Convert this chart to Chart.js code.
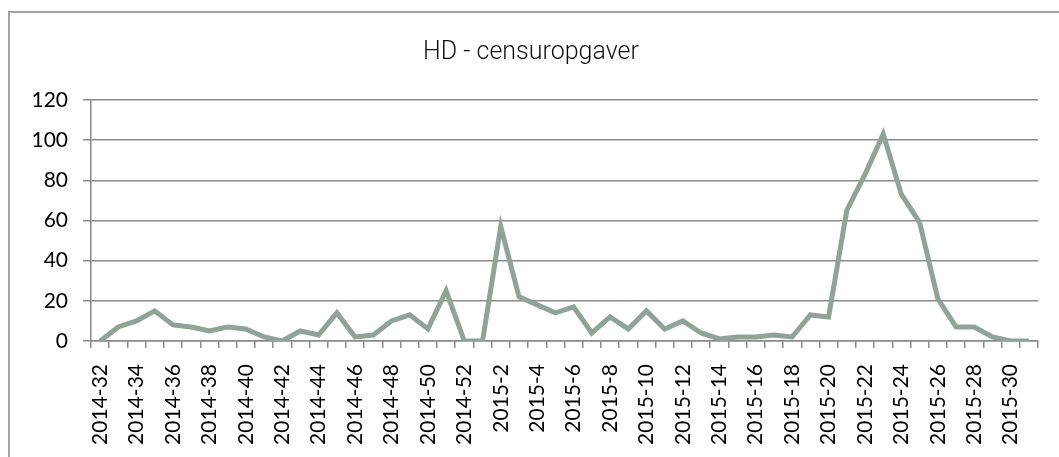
<!DOCTYPE html>
<html>
<head>
<meta charset="utf-8">
<script src="https://cdn.jsdelivr.net/npm/chart.js@4"></script>
<style>
  html, body { margin: 0; padding: 0; background: #fff; overflow: hidden; width: 1059px; height: 457px; }
  #frame { position: absolute; left: 8px; top: 11px; width: 1051px; height: 446px; border-left: 2px solid #a3a3a3; border-top: 2px solid #a3a3a3; box-sizing: border-box; }
  #wrap { position: absolute; left: 0; top: 0; width: 1059px; height: 457px; }
</style>
</head>
<body>
<div id="frame"></div>
<div id="wrap"><canvas id="chart" width="1059" height="457"></canvas></div>
<script>
const chartTitle = "HD - censuropgaver";

const weeks = [
  "2014-32", "2014-33", "2014-34", "2014-35", "2014-36", "2014-37", "2014-38",
  "2014-39", "2014-40", "2014-41", "2014-42", "2014-43", "2014-44", "2014-45",
  "2014-46", "2014-47", "2014-48", "2014-49", "2014-50", "2014-51", "2014-52",
  "2015-1", "2015-2", "2015-3", "2015-4", "2015-5", "2015-6", "2015-7",
  "2015-8", "2015-9", "2015-10", "2015-11", "2015-12", "2015-13", "2015-14",
  "2015-15", "2015-16", "2015-17", "2015-18", "2015-19", "2015-20", "2015-21",
  "2015-22", "2015-23", "2015-24", "2015-25", "2015-26", "2015-27", "2015-28",
  "2015-29", "2015-30", "2015-31"
];

const counts = [
  0, 7, 10, 15, 8, 7, 5, 7, 6, 2, 0, 5, 3, 14, 2, 3, 10, 13, 6, 25, 0,
  0, 57, 22, 18, 14, 17, 4, 12, 6, 15, 6, 10, 4, 1, 2, 2, 3, 2, 13, 12,
  65, 83, 103, 73, 59, 21, 7, 7, 2, 0, 0
];

const yTicks = [0, 20, 40, 60, 80, 100, 120];

const gridColor = "#8a8a8a";
const lineColor = "#8fa396";

new Chart("chart", {
  type: "line",
  data: {
    labels: weeks,
    datasets: [{
      data: counts,
      borderColor: lineColor,
      borderWidth: 5,
      pointRadius: 0,
      tension: 0,
      fill: false
    }]
  },
  options: {
    responsive: false,
    animation: false,
    layout: { padding: { left: 24, right: 21, top: 11, bottom: 0 } },
    plugins: {
      legend: { display: false },
      tooltip: { enabled: false },
      title: {
        display: true,
        text: chartTitle,
        color: "#111",
        font: { family: "Roboto", weight: "300", size: 25, lineHeight: 1.2 },
        padding: { top: 27, bottom: 32 }
      }
    },
    scales: {
      x: {
        offset: true,
        grid: { display: true, drawOnChartArea: false, offset: true, tickLength: 7, color: gridColor, lineWidth: 1.5 },
        border: { color: gridColor, width: 1.5 },
        ticks: {
          autoSkip: false,
          minRotation: 90,
          maxRotation: 90,
          padding: 16,
          color: "#000",
          font: { family: "Lato", size: 21 },
          callback: function (value, index) {
            return index % 2 === 0 ? weeks[index] : "";
          }
        },
        afterFit: function (scale) {
          scale.height = 116;
          scale.paddingLeft = 0;
          scale.paddingRight = 0;
        }
      },
      y: {
        min: yTicks[0],
        max: yTicks[yTicks.length - 1],
        grid: { color: gridColor, lineWidth: 1.5, tickLength: 8 },
        border: { color: gridColor, width: 1.5 },
        ticks: {
          stepSize: yTicks[1] - yTicks[0],
          padding: 15,
          color: "#000",
          font: { family: "Lato", size: 21 }
        },
        afterFit: function (scale) {
          scale.width = 67;
          scale.paddingTop = 0;
          scale.paddingBottom = 0;
        }
      }
    }
  }
});
</script>
</body>
</html>
